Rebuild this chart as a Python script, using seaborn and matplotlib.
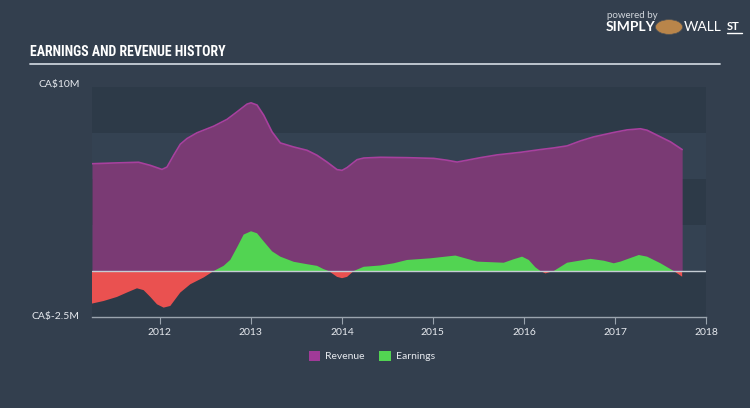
import numpy as np
import pandas as pd
import matplotlib
matplotlib.use("Agg")
import matplotlib.pyplot as plt
import seaborn as sns

# ---- data (CA$ millions) ----
rev_years = [2011.255, 2011.493, 2011.767, 2011.896, 2012.024, 2012.079, 2012.152, 2012.225,
             2012.299, 2012.408, 2012.592, 2012.738, 2012.848, 2012.958, 2013.002, 2013.068,
             2013.141, 2013.233, 2013.324, 2013.471, 2013.617, 2013.727, 2013.837, 2013.947,
             2014.002, 2014.057, 2014.167, 2014.240, 2014.423, 2014.716, 2015.009, 2015.156,
             2015.266, 2015.375, 2015.522, 2015.705, 2015.962, 2016.181, 2016.328, 2016.474,
             2016.621, 2016.767, 2016.987, 2017.134, 2017.280, 2017.353, 2017.463, 2017.610,
             2017.738]
revenue = [5.83, 5.87, 5.91, 5.74, 5.52, 5.65, 6.29, 6.89,
           7.20, 7.51, 7.87, 8.24, 8.65, 9.07, 9.14, 9.02,
           8.47, 7.56, 6.96, 6.74, 6.56, 6.29, 5.92, 5.51,
           5.47, 5.62, 6.05, 6.14, 6.18, 6.16, 6.12, 6.02,
           5.92, 6.02, 6.16, 6.31, 6.45, 6.60, 6.69, 6.80,
           7.07, 7.29, 7.53, 7.67, 7.73, 7.65, 7.38, 7.02,
           6.60]

earn_years = [2011.255, 2011.383, 2011.529, 2011.639, 2011.749, 2011.822, 2011.896, 2011.969,
              2012.042, 2012.115, 2012.225, 2012.335, 2012.482, 2012.592, 2012.701, 2012.775,
              2012.848, 2012.921, 2013.002, 2013.068, 2013.141, 2013.233, 2013.324, 2013.471,
              2013.617, 2013.727, 2013.800, 2013.855, 2013.947, 2014.002, 2014.057, 2014.130,
              2014.240, 2014.423, 2014.570, 2014.716, 2014.973, 2015.247, 2015.485, 2015.778,
              2015.888, 2015.980, 2016.053, 2016.126, 2016.181, 2016.236, 2016.328, 2016.474,
              2016.731, 2016.877, 2016.987, 2017.060, 2017.262, 2017.353, 2017.500, 2017.646,
              2017.738]
earnings = [-1.77, -1.63, -1.41, -1.17, -0.94, -1.04, -1.41, -1.81,
            -1.99, -1.90, -1.17, -0.72, -0.35, 0.0, 0.28, 0.61,
            1.28, 1.98, 2.16, 2.05, 1.61, 1.07, 0.78, 0.50,
            0.37, 0.28, 0.10, 0.0, -0.32, -0.39, -0.32, 0.0,
            0.23, 0.30, 0.42, 0.60, 0.69, 0.84, 0.51, 0.45,
            0.64, 0.78, 0.60, 0.20, 0.0, -0.13, 0.0, 0.45,
            0.66, 0.56, 0.42, 0.51, 0.87, 0.78, 0.42, 0.0,
            -0.31]

x_ticks = [2012, 2013, 2014, 2015, 2016, 2017, 2018]
x_tick_labels = ["2012", "2013", "2014", "2015", "2016", "2017", "2018"]
y_labels = {10: "CA$10M", -2.5: "CA$-2.5M"}
legend_labels = ["Revenue", "Earnings"]

# ---- styling ----
BG = "#333f4e"
DARK = "#2d3a48"
LIGHT = "#344252"
PURPLE = "#7a3a74"
PURPLE_LINE = "#a8409e"
GREEN = "#52d452"
RED = "#ea5150"
TXT = "#e6e9ee"

sns.set_theme(style="dark")
plt.rcParams["font.family"] = ["Lato", "DejaVu Sans"]

fig = plt.figure(figsize=(7.5, 4.08), dpi=100, facecolor=BG)
ax = fig.add_axes([92/750, 1 - 317/408, 614/750, 230/408])
ax.set_facecolor(LIGHT)

# bands
for lo, hi in [(7.5, 10), (2.5, 5), (-2.5, 0)]:
    ax.axhspan(lo, hi, color=DARK, lw=0, zorder=0)

rev_df = pd.DataFrame({"year": rev_years, "value": revenue})
earn_df = pd.DataFrame({"year": earn_years, "value": earnings})

ax.fill_between(rev_df["year"], 0, rev_df["value"], color=PURPLE, lw=0, zorder=1)
sns.lineplot(data=rev_df, x="year", y="value", ax=ax, color=PURPLE_LINE, lw=1.2, zorder=2)

ey = np.array(earnings)
ax.fill_between(earn_df["year"], 0, ey, where=ey >= 0, interpolate=True, color=GREEN, lw=0, zorder=3)
ax.fill_between(earn_df["year"], 0, ey, where=ey <= 0, interpolate=True, color=RED, lw=0, zorder=3)

ax.axhline(0, color="#c5ccd4", lw=1.0, zorder=4)

ax.set_xlim(rev_years[0], 2018.0)
ax.set_ylim(-2.5, 10)
ax.set_xticks(x_ticks)
ax.set_xticklabels(x_tick_labels, color=TXT, fontsize=7.5)
ax.set_yticks([])
ax.set_xlabel("")
ax.set_ylabel("")
ax.tick_params(axis="x", bottom=True, length=5, width=0.8, color="#9aa4ae", pad=3)
for s in ["top", "right", "left"]:
    ax.spines[s].set_visible(False)
ax.spines["bottom"].set_color("#9aa4ae")
ax.spines["bottom"].set_linewidth(1.0)
ax.grid(False)

# y labels
fig.text(80/750, 1 - 85/408, y_labels[10], color=TXT, fontsize=7.5, va="center", ha="right")
fig.text(80/750, 1 - 316/408, y_labels[-2.5], color=TXT, fontsize=7.5, va="center", ha="right")

# title and rule
fig.text(30/750, 1 - 52/408, "EARNINGS AND REVENUE HISTORY", color="white", fontsize=10,
         fontweight="bold", fontstretch="condensed",
         family=["Roboto Condensed", "Liberation Sans Narrow", "DejaVu Sans"], va="center", ha="left")
fig.add_artist(plt.Line2D([30/750, 720/750], [1 - 64/408, 1 - 64/408], color="#c8d0d8", lw=1.3))

# branding
fig.text(607/750, 1 - 15/408, "powered by", color="#d0d5db", fontsize=7, va="center", ha="left")
fig.text(606/750, 1 - 27/408, "SIMPLY", color="white", fontsize=10, fontweight="bold", va="center", ha="left")
fig.text(684/750, 1 - 27/408, "WALL", color="white", fontsize=10, va="center", ha="left")
fig.text(727/750, 1 - 27/408, "ST", color="white", fontsize=8, fontweight="bold", va="center", ha="left")
fig.add_artist(plt.Line2D([727/750, 742/750], [1 - 33/408, 1 - 33/408], color="white", lw=1))
fig.patches.append(matplotlib.patches.Circle((669/750, 1 - 27/408), 0.018, transform=fig.transFigure,
                                             facecolor="#b9854a", edgecolor="#555", lw=0.5))

# legend
handles = [matplotlib.patches.Patch(facecolor="#a03a98", edgecolor="none"),
           matplotlib.patches.Patch(facecolor=GREEN, edgecolor="none")]
leg = fig.legend(handles, legend_labels, loc="center", bbox_to_anchor=(372/750, 1 - 356/408),
                 ncol=2, frameon=False, fontsize=7.5, handlelength=1.1, handleheight=1.1,
                 columnspacing=1.4, handletextpad=0.5)
for t in leg.get_texts():
    t.set_color(TXT)

fig.savefig("out.png", dpi=100, facecolor=BG)
